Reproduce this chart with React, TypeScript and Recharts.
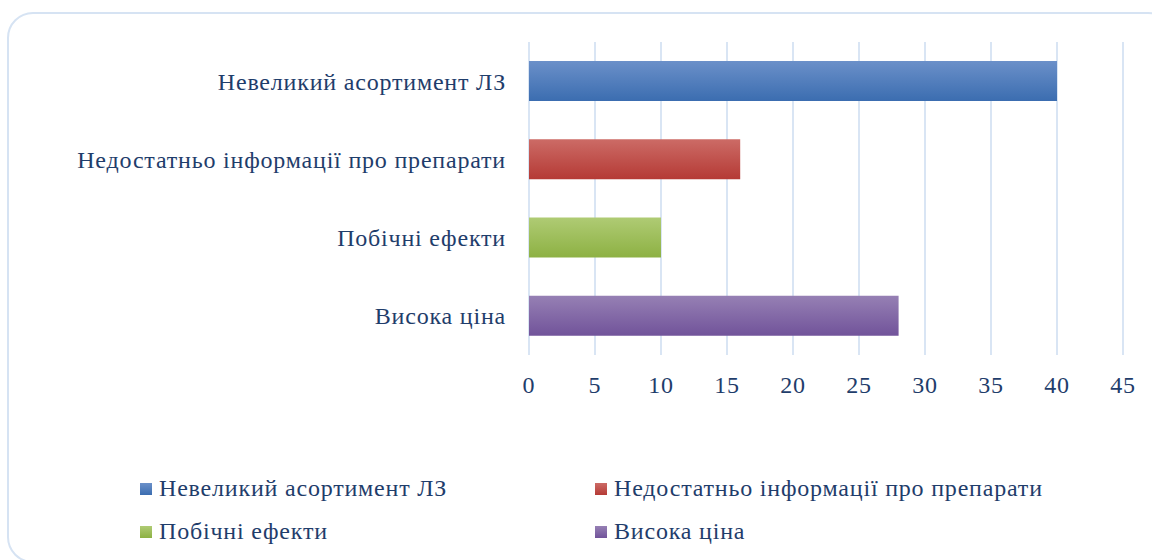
import { BarChart, Bar, XAxis, YAxis, CartesianGrid, Legend, Cell } from 'recharts';

const categories = ['Невеликий асортимент ЛЗ', 'Недостатньо інформації про препарати', 'Побічні ефекти', 'Висока ціна'];
const values = [40, 16, 10, 28];
const xTicks = [0, 5, 10, 15, 20, 25, 30, 35, 40, 45];

const gradients = [
  { id: 'gBlue', top: '#6B90C9', bottom: '#3B6DB0', swatch: '#4A7BBE' },
  { id: 'gRed', top: '#CC6B66', bottom: '#B53A35', swatch: '#C0504D' },
  { id: 'gGreen', top: '#AFCB74', bottom: '#8DB143', swatch: '#9BBB59' },
  { id: 'gPurple', top: '#9680B4', bottom: '#71539A', swatch: '#8064A2' },
];

const data = categories.map((name, i) => ({ name, value: values[i] }));

const textColor = '#1F3D6B';
const font = '"Liberation Serif", serif';
const tickStyle = { fill: textColor, fontSize: 24, fontFamily: font, letterSpacing: 0.8 };

const LegendContent = () => (
  <div style={{ display: 'grid', gridTemplateColumns: '455px 455px', rowGap: 16, fontFamily: font, fontSize: 24, letterSpacing: 0.8, color: textColor }}>
    {categories.map((c, i) => (
      <div key={c} style={{ display: 'flex', alignItems: 'center', height: 27 }}>
        <span
          style={{
            width: 12,
            height: 12,
            background: `linear-gradient(${gradients[i].top}, ${gradients[i].bottom})`,
            marginRight: 7,
            display: 'inline-block',
          }}
        />
        <span>{c}</span>
      </div>
    ))}
  </div>
);

export default function App() {
  return (
    <div style={{ position: 'absolute', left: 0, top: 0, width: 1152, height: 560, overflow: 'hidden', background: '#fff' }}>
      <div
        style={{
          position: 'absolute',
          left: 7,
          top: 12,
          width: 1163,
          height: 547,
          border: '2px solid #D6E3F3',
          borderRadius: 26,
        }}
      />
      <div style={{ position: 'absolute', left: 0, top: 0 }}>
        <BarChart
          width={1152}
          height={560}
          data={data}
          layout="vertical"
          margin={{ top: 42, right: 29, bottom: 165, left: 0 }}
          barSize={40}
        >
          <defs>
            {gradients.map((g) => (
              <linearGradient key={g.id} id={g.id} x1="0" y1="0" x2="0" y2="1">
                <stop offset="0%" stopColor={g.top} />
                <stop offset="100%" stopColor={g.bottom} />
              </linearGradient>
            ))}
          </defs>
          <CartesianGrid horizontal={false} stroke="#D9E5F4" strokeWidth={2} />
          <XAxis
            type="number"
            domain={[0, 45]}
            ticks={xTicks}
            axisLine={false}
            tickLine={false}
            tickMargin={15}
            height={40}
            tick={tickStyle}
          />
          <YAxis
            type="category"
            dataKey="name"
            width={529}
            axisLine={false}
            tickLine={false}
            tickMargin={17}
            tick={tickStyle}
          />
          <Legend
            layout="horizontal"
            verticalAlign="middle"
            align="center"
            content={<LegendContent />}
            wrapperStyle={{ position: 'absolute', top: 475, left: 140, width: 950 }}
          />
          <Bar dataKey="value" isAnimationActive={false}>
            {data.map((d, i) => (
              <Cell key={d.name} fill={`url(#${gradients[i].id})`} />
            ))}
          </Bar>
        </BarChart>
      </div>
    </div>
  );
}
